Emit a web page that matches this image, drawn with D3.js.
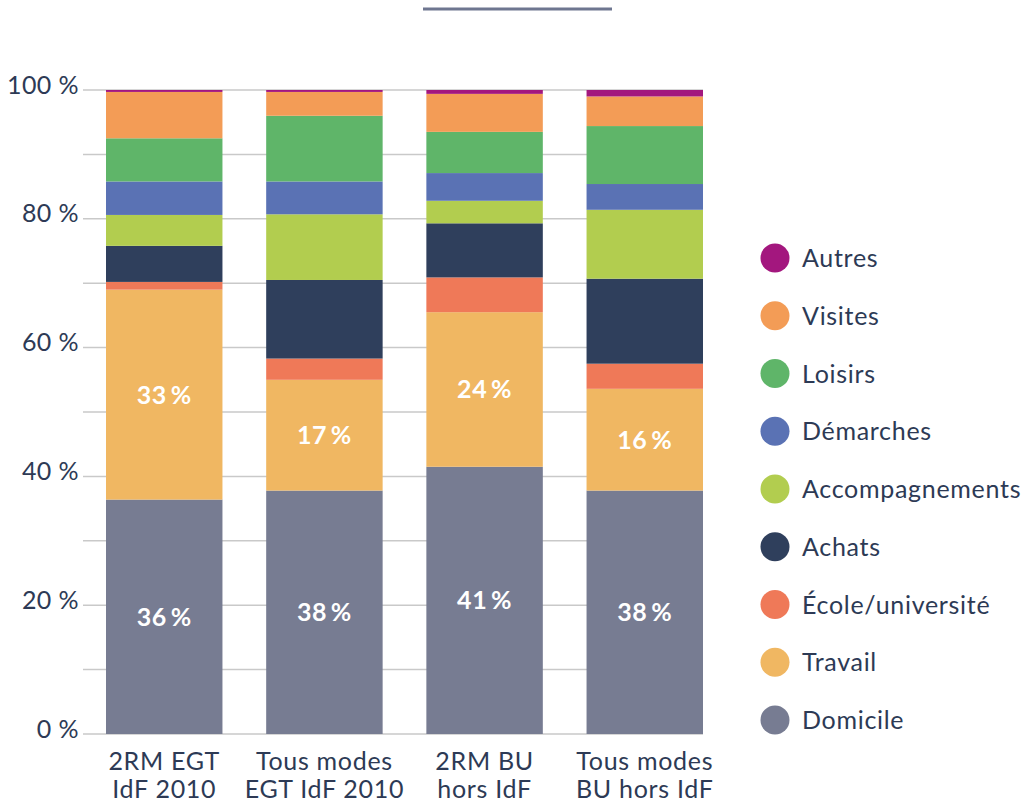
<!DOCTYPE html>
<html>
<head>
<meta charset="utf-8">
<script src="https://cdn.jsdelivr.net/npm/d3@7"></script>
<style>
  body { margin: 0; background: #fff; }
  text { font-family: Lato, "Noto Sans", sans-serif; }
</style>
</head>
<body>
<div id="chart"></div>
<script>
// Data (in %)
const categories = ['2RM EGT|IdF 2010', 'Tous modes|EGT IdF 2010', '2RM BU|hors IdF', 'Tous modes|BU hors IdF'];
const motifs = ['Domicile', 'Travail', 'École/université', 'Achats', 'Accompagnements', 'Démarches', 'Loisirs', 'Visites', 'Autres'];
const colors = ['#777c92', '#f0b762', '#ef7958', '#2f3f5c', '#b2cd4f', '#5a72b4', '#5fb569', '#f39c56', '#a3177e'];

const domicile = [36.4, 37.8, 41.5, 37.8];
const travail = [32.6, 17.2, 24.0, 15.8];
const ecole = [1.2, 3.3, 5.4, 3.9];
const achats = [5.6, 12.2, 8.4, 13.2];
const accompagnements = [4.8, 10.2, 3.5, 10.7];
const demarches = [5.2, 5.1, 4.3, 4.0];
const loisirs = [6.7, 10.2, 6.4, 9.0];
const visites = [7.2, 3.7, 5.9, 4.6];
const autres = [0.3, 0.3, 0.6, 1.0];

const labelDomicile = ['36\u2009%', '38\u2009%', '41\u2009%', '38\u2009%'];
const labelTravail = ['33\u2009%', '17\u2009%', '24\u2009%', '16\u2009%'];
const yTicks = [0, 20, 40, 60, 80, 100];

const series = [domicile, travail, ecole, achats, accompagnements, demarches, loisirs, visites, autres];
let table = categories.map(function(c, i) {
    let row = {cat: c};
    motifs.forEach(function(m, j) { row[m] = series[j][i]; });
    return row;
});

const W = 1026, H = 803;
const textColor = '#2d3a55';

let svg = d3.select('#chart').append('svg')
    .attr('width', W)
    .attr('height', H);

//Scales
let xScale = d3.scaleBand()
    .domain(categories)
    .range([106, 703])
    .paddingInner(0.273)
    .paddingOuter(0);

let yScale = d3.scaleLinear()
    .domain([0, 100])
    .range([734, 90]);

let color = d3.scaleOrdinal().domain(motifs).range(colors);

// decorative line at the top
svg.append('line')
    .attr('x1', 423).attr('x2', 612)
    .attr('y1', 9).attr('y2', 9)
    .attr('stroke', '#6e7690')
    .attr('stroke-width', 3);

// gridlines every 10 %
svg.append('g')
    .selectAll('line')
    .data(d3.range(0, 101, 10))
    .enter().append('line')
    .attr('x1', 83)
    .attr('x2', xScale.range()[1])
    .attr('y1', function(d) { return yScale(d); })
    .attr('y2', function(d) { return yScale(d); })
    .attr('stroke', '#c9c9c9')
    .attr('stroke-width', 1.5);

// stacked bars
let stacked = d3.stack().keys(motifs)(table);

svg.append('g')
    .selectAll('g')
    .data(stacked)
    .enter().append('g')
    .attr('fill', function(d) { return color(d.key); })
    .selectAll('rect')
    .data(function(d) { return d; })
    .enter().append('rect')
    .attr('x', function(d) { return xScale(d.data.cat); })
    .attr('width', xScale.bandwidth())
    .attr('y', function(d) { return yScale(d[1]); })
    .attr('height', function(d) { return yScale(d[0]) - yScale(d[1]); });

// value labels in Domicile and Travail
[[0, labelDomicile], [1, labelTravail]].forEach(function(p) {
    let layer = stacked[p[0]];
    svg.append('g')
        .selectAll('text')
        .data(layer)
        .enter().append('text')
        .attr('x', function(d) { return xScale(d.data.cat) + xScale.bandwidth() / 2; })
        .attr('y', function(d) { return (yScale(d[0]) + yScale(d[1])) / 2; })
        .attr('dy', '0.36em')
        .attr('text-anchor', 'middle')
        .attr('fill', '#fff')
        .attr('font-size', 25)
        .attr('font-weight', 700)
        .attr('letter-spacing', 0.6)
        .text(function(d, i) { return p[1][i]; });
});

// y axis
let yAxis = svg.append('g')
    .attr('transform', 'translate(83,0)')
    .call(d3.axisLeft(yScale).tickValues(yTicks).tickSize(0).tickPadding(4)
        .tickFormat(function(d) { return d + ' %'; }));
yAxis.select('.domain').remove();
yAxis.selectAll('text')
    .attr('font-family', 'Lato, sans-serif')
    .attr('font-size', 25)
    .attr('letter-spacing', 0.4)
    .attr('fill', textColor)
    .attr('dy', '0.12em');

// x axis (two-line labels)
let xAxis = svg.append('g')
    .attr('transform', 'translate(0,734)')
    .call(d3.axisBottom(xScale).tickSize(0).tickFormat(''));
xAxis.select('.domain').remove();
xAxis.selectAll('.tick').each(function(d) {
    let t = d3.select(this).append('text')
        .attr('text-anchor', 'middle')
        .attr('font-size', 25)
        .attr('letter-spacing', 0.7)
        .attr('fill', textColor);
    d.split('|').forEach(function(line, k) {
        t.append('tspan').attr('x', 0).attr('y', 36 + k * 28).text(line);
    });
});

// legend
let legendY = d3.scalePoint()
    .domain(motifs.slice().reverse())
    .range([258, 720]);

let legend = svg.append('g')
    .selectAll('g')
    .data(motifs.slice().reverse())
    .enter().append('g')
    .attr('transform', function(d) { return 'translate(775,' + legendY(d) + ')'; });

legend.append('circle')
    .attr('r', 14.5)
    .attr('fill', function(d) { return color(d); });

legend.append('text')
    .attr('x', 27)
    .attr('dy', '0.36em')
    .attr('font-size', 25)
    .attr('letter-spacing', 0.7)
    .attr('fill', textColor)
    .text(function(d) { return d; });
</script>
</body>
</html>
